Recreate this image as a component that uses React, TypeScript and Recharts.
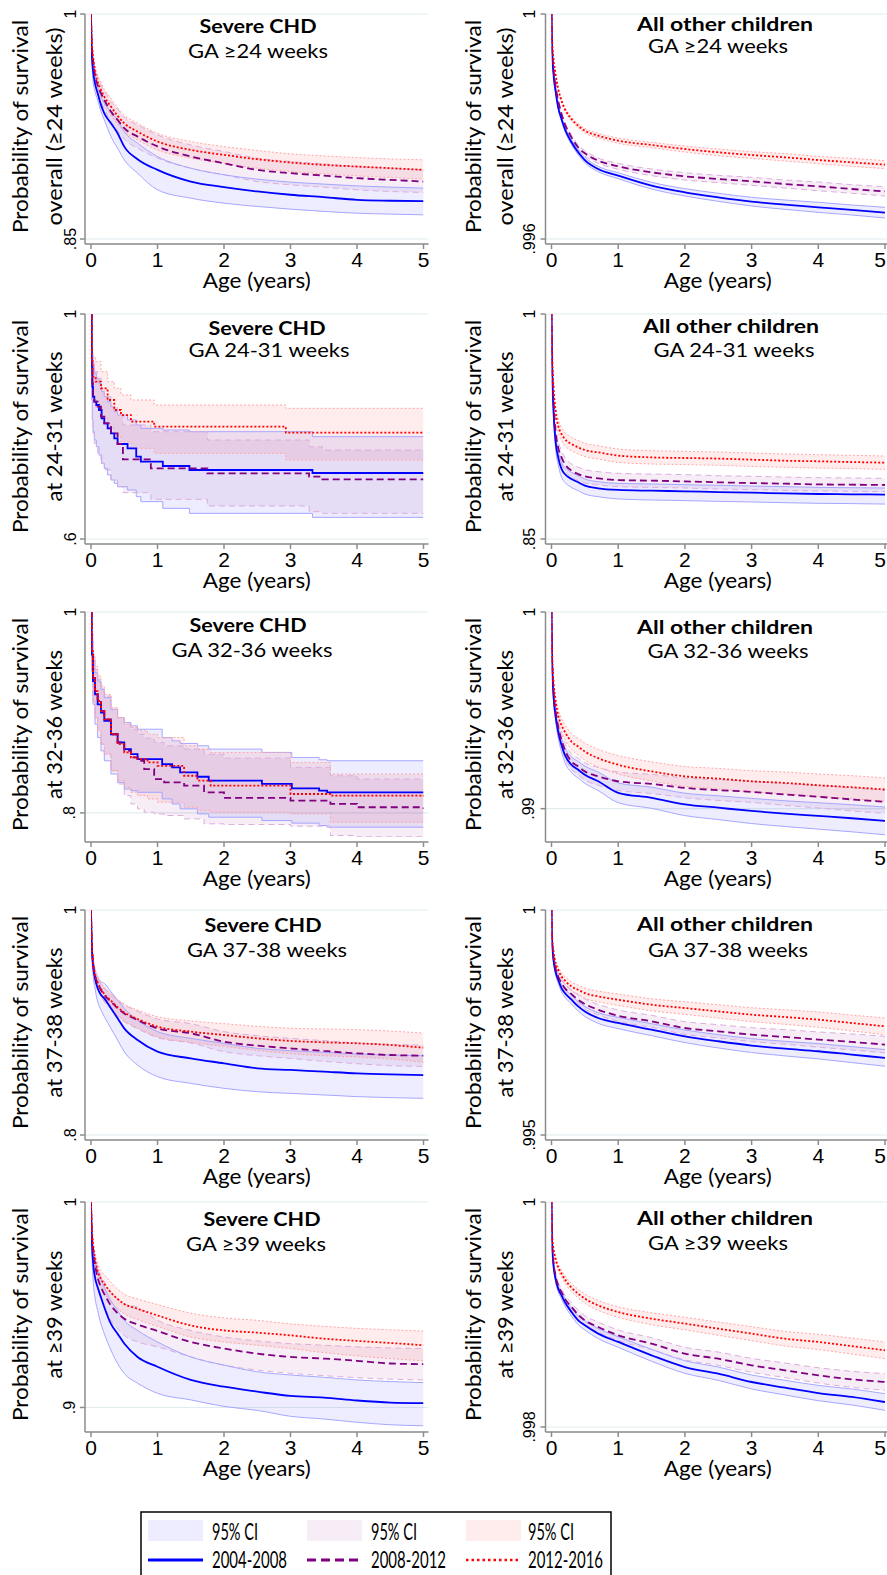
import React from "react";
import { ComposedChart, Line, Area, XAxis, YAxis, CartesianGrid } from "recharts";

// ---------- shared axes / labels ----------
const T = [0, 0.01, 0.03, 0.06, 0.1, 0.15, 0.2, 0.3, 0.4, 0.5, 0.7, 1, 1.5, 2, 2.5, 3, 3.5, 4, 4.5, 5];
const X_TICKS = [0, 1, 2, 3, 4, 5];
const PERIODS = ["2004-2008", "2008-2012", "2012-2016"];

// ---------- Panel 1L: Severe CHD, GA >=24 ----------
const p1l_blue = [1, 0.976, 0.9627, 0.9538, 0.9472, 0.9394, 0.9338, 0.9272, 0.9205, 0.9116, 0.9032, 0.8961, 0.8883, 0.8846, 0.8817, 0.8795, 0.8779, 0.8761, 0.8755, 0.8752];
const p1l_blueLo = [1, 0.9716, 0.956, 0.9483, 0.9427, 0.935, 0.9294, 0.9183, 0.9105, 0.9028, 0.8939, 0.8828, 0.8772, 0.8739, 0.8717, 0.8699, 0.8684, 0.8672, 0.8666, 0.8661];
const p1l_blueHi = [1, 0.9805, 0.9683, 0.9594, 0.9516, 0.945, 0.9405, 0.935, 0.9294, 0.9216, 0.9139, 0.905, 0.8972, 0.8928, 0.8899, 0.8879, 0.8866, 0.8854, 0.8846, 0.8839];
const p1l_purple = [1, 0.9805, 0.9694, 0.9594, 0.9527, 0.9472, 0.9427, 0.935, 0.9294, 0.9239, 0.9183, 0.9117, 0.905, 0.9005, 0.8961, 0.8939, 0.8923, 0.8906, 0.8894, 0.8883];
const p1l_purpleLo = [1, 0.9771, 0.9654, 0.9549, 0.9476, 0.9416, 0.9367, 0.9283, 0.9223, 0.9165, 0.9105, 0.9039, 0.8972, 0.8928, 0.8883, 0.8861, 0.8845, 0.8828, 0.8817, 0.881];
const p1l_purpleHi = [1, 0.9838, 0.9734, 0.9638, 0.9578, 0.9527, 0.9487, 0.9416, 0.9365, 0.9312, 0.926, 0.9194, 0.9127, 0.9083, 0.9039, 0.9017, 0.9001, 0.8983, 0.8972, 0.8961];
const p1l_red = [1, 0.9827, 0.9716, 0.9616, 0.9549, 0.9494, 0.9449, 0.9383, 0.9321, 0.9272, 0.9216, 0.915, 0.9094, 0.9061, 0.9032, 0.901, 0.8994, 0.8983, 0.8972, 0.8961];
const p1l_redLo = [1, 0.9794, 0.9676, 0.9572, 0.9505, 0.9445, 0.94, 0.9327, 0.9265, 0.9216, 0.9161, 0.9094, 0.9039, 0.9005, 0.8972, 0.895, 0.8934, 0.8921, 0.891, 0.8899];
const p1l_redHi = [1, 0.986, 0.9756, 0.966, 0.9594, 0.9543, 0.9498, 0.9438, 0.9376, 0.9327, 0.9272, 0.9205, 0.915, 0.9116, 0.909, 0.9068, 0.9054, 0.9043, 0.9034, 0.9028];

// ---------- Panel 1R: All other children, GA >=24 ----------
const p1r_blue = [1, 0.999348, 0.998933, 0.998637, 0.998341, 0.998133, 0.997956, 0.997719, 0.997541, 0.997404, 0.997244, 0.997126, 0.996948, 0.99683, 0.996741, 0.996664, 0.99661, 0.996563, 0.996516, 0.996468];
const p1r_blueLo = [1, 0.99933, 0.998909, 0.998607, 0.998311, 0.998097, 0.99792, 0.997678, 0.9975, 0.997357, 0.997197, 0.997073, 0.996889, 0.996765, 0.99667, 0.996587, 0.996527, 0.996474, 0.996427, 0.996373];
const p1r_blueHi = [1, 0.999366, 0.998957, 0.998667, 0.998371, 0.998169, 0.997992, 0.99776, 0.997582, 0.997451, 0.997291, 0.997179, 0.997007, 0.996895, 0.996812, 0.996741, 0.996693, 0.996652, 0.996605, 0.996563];
const p1r_purple = [1, 0.999407, 0.999022, 0.998726, 0.998459, 0.998222, 0.998044, 0.997807, 0.99763, 0.997523, 0.997393, 0.997292, 0.997185, 0.997114, 0.997067, 0.997025, 0.996978, 0.996936, 0.996889, 0.996847];
const p1r_purpleLo = [1, 0.999389, 0.998998, 0.998696, 0.998429, 0.998186, 0.998008, 0.997766, 0.997589, 0.997476, 0.997346, 0.997239, 0.997126, 0.997049, 0.997002, 0.996954, 0.996907, 0.996859, 0.996812, 0.996764];
const p1r_purpleHi = [1, 0.999425, 0.999046, 0.998756, 0.998489, 0.998258, 0.99808, 0.997848, 0.997671, 0.99757, 0.99744, 0.997345, 0.997244, 0.997179, 0.997132, 0.997096, 0.997049, 0.997013, 0.996966, 0.99693];
const p1r_red = [1, 0.999526, 0.9992, 0.998933, 0.998667, 0.998459, 0.998311, 0.998133, 0.998015, 0.997926, 0.997837, 0.997748, 0.997671, 0.9976, 0.997541, 0.997493, 0.997452, 0.997404, 0.997363, 0.997321];
const p1r_redLo = [1, 0.999514, 0.999182, 0.998909, 0.998643, 0.998429, 0.998281, 0.998097, 0.997979, 0.997885, 0.997796, 0.997701, 0.997624, 0.997547, 0.997482, 0.997434, 0.997387, 0.997339, 0.997292, 0.99725];
const p1r_redHi = [1, 0.999538, 0.999218, 0.998957, 0.998691, 0.998489, 0.998341, 0.998169, 0.998051, 0.997967, 0.997878, 0.997795, 0.997718, 0.997653, 0.9976, 0.997552, 0.997517, 0.997469, 0.997434, 0.997392];

// ---------- Panel 2L: Severe CHD, GA 24-31 (step) ----------
const p2l_blueT = [0, 0.01, 0.02, 0.03, 0.05, 0.08, 0.12, 0.16, 0.2, 0.25, 0.3, 0.35, 0.4, 0.55, 0.68, 0.75, 1.08, 1.48, 3.33, 5];
const p2l_blue = [1, 0.9064, 0.8708, 0.853, 0.8441, 0.8382, 0.8293, 0.8145, 0.8056, 0.7967, 0.7879, 0.779, 0.7689, 0.7612, 0.7464, 0.7375, 0.7298, 0.7227, 0.7173, 0.7173];
const p2l_blueHi = [1, 0.9538, 0.9241, 0.9064, 0.8945, 0.8856, 0.8767, 0.8619, 0.853, 0.8441, 0.8353, 0.8264, 0.8204, 0.8116, 0.8027, 0.7967, 0.7938, 0.7908, 0.7819, 0.7819];
const p2l_blueLo = [1, 0.8471, 0.8116, 0.7908, 0.776, 0.7641, 0.7493, 0.7345, 0.7256, 0.7138, 0.7049, 0.699, 0.693, 0.6871, 0.6753, 0.6664, 0.6545, 0.6456, 0.6385, 0.6385];
const p2l_purpleT = [0, 0.01, 0.02, 0.03, 0.05, 0.1, 0.15, 0.2, 0.3, 0.4, 0.48, 0.9, 1.75, 3.28, 3.48, 5];
const p2l_purple = [1, 0.9123, 0.8767, 0.856, 0.8441, 0.8353, 0.8175, 0.8056, 0.7879, 0.7689, 0.7416, 0.7256, 0.7167, 0.7108, 0.7061, 0.7061];
const p2l_purpleHi = [1, 0.9597, 0.9301, 0.9123, 0.8975, 0.8856, 0.8679, 0.853, 0.8353, 0.8204, 0.8027, 0.7908, 0.776, 0.7641, 0.7582, 0.7582];
const p2l_purpleLo = [1, 0.853, 0.8116, 0.7879, 0.7701, 0.7523, 0.7345, 0.7227, 0.7049, 0.693, 0.6824, 0.6705, 0.6587, 0.6486, 0.6456, 0.6456];
const p2l_redT = [0, 0.01, 0.025, 0.07, 0.15, 0.25, 0.35, 0.45, 0.6, 0.95, 2.93, 5];
const p2l_red = [1, 0.9182, 0.8886, 0.8797, 0.8679, 0.8471, 0.8293, 0.8204, 0.8086, 0.7997, 0.789, 0.789];
const p2l_redHi = [1, 0.9538, 0.9241, 0.9153, 0.8975, 0.8797, 0.8679, 0.856, 0.8471, 0.8382, 0.8323, 0.8305];
const p2l_redLo = [1, 0.8767, 0.8471, 0.8353, 0.8145, 0.7967, 0.7819, 0.773, 0.7612, 0.7523, 0.7404, 0.7393];

// ---------- Panel 2R: All other children, GA 24-31 ----------
const p2r_blue = [1, 0.9644, 0.9356, 0.9156, 0.9044, 0.8967, 0.8933, 0.89, 0.8878, 0.8856, 0.8838, 0.8827, 0.8822, 0.8818, 0.8813, 0.8809, 0.8804, 0.88, 0.8798, 0.8796];
const p2r_blueLo = [1, 0.9622, 0.9322, 0.9111, 0.8996, 0.8913, 0.8878, 0.8844, 0.8822, 0.88, 0.8782, 0.8767, 0.876, 0.8756, 0.8751, 0.8747, 0.8742, 0.8738, 0.8736, 0.8733];
const p2r_blueHi = [1, 0.9667, 0.9389, 0.92, 0.9089, 0.9011, 0.8978, 0.8944, 0.8922, 0.89, 0.8882, 0.8871, 0.8867, 0.8862, 0.8858, 0.8853, 0.8849, 0.8844, 0.8842, 0.884];
const p2r_purple = [1, 0.9678, 0.9422, 0.9222, 0.9111, 0.9044, 0.9, 0.8956, 0.8933, 0.8918, 0.8904, 0.8893, 0.8889, 0.8884, 0.8878, 0.8873, 0.8869, 0.8864, 0.8862, 0.886];
const p2r_purpleLo = [1, 0.9656, 0.9389, 0.9182, 0.9067, 0.9, 0.8956, 0.8911, 0.8889, 0.8873, 0.886, 0.8849, 0.8844, 0.884, 0.8833, 0.8829, 0.8824, 0.882, 0.8818, 0.8816];
const p2r_purpleHi = [1, 0.97, 0.9456, 0.9262, 0.9156, 0.9089, 0.9044, 0.9, 0.8978, 0.8962, 0.8949, 0.8938, 0.8933, 0.8929, 0.8922, 0.8918, 0.8913, 0.8909, 0.8907, 0.8904];
const p2r_red = [1, 0.9733, 0.9511, 0.9356, 0.9256, 0.92, 0.9167, 0.9133, 0.9111, 0.9093, 0.9078, 0.9056, 0.9044, 0.904, 0.9036, 0.9029, 0.9022, 0.9018, 0.9013, 0.9009];
const p2r_redLo = [1, 0.9711, 0.9478, 0.9316, 0.9211, 0.9156, 0.9122, 0.9089, 0.9067, 0.9049, 0.9033, 0.9011, 0.9, 0.8996, 0.8991, 0.8984, 0.8978, 0.8973, 0.8969, 0.8964];
const p2r_redHi = [1, 0.9756, 0.9544, 0.9396, 0.93, 0.9244, 0.9211, 0.9178, 0.9156, 0.9138, 0.9122, 0.91, 0.9089, 0.9084, 0.908, 0.9073, 0.9067, 0.9062, 0.9058, 0.9053];

// ---------- Panel 3L: Severe CHD, GA 32-36 (step) ----------
const p3l_blueT = [0, 0.01, 0.03, 0.06, 0.1, 0.15, 0.2, 0.3, 0.4, 0.5, 0.6, 0.7, 1.07, 1.22, 1.34, 1.6, 1.77, 2.57, 3.02, 3.43, 3.55, 5];
const p3l_blue = [1, 0.9577, 0.9312, 0.918, 0.9081, 0.8998, 0.8916, 0.8783, 0.8701, 0.8635, 0.8585, 0.8536, 0.8486, 0.8453, 0.8403, 0.836, 0.8321, 0.8288, 0.8245, 0.8221, 0.8205, 0.8205];
const p3l_blueHi = [1, 0.9709, 0.9511, 0.9395, 0.9312, 0.923, 0.9147, 0.9031, 0.8949, 0.8899, 0.8866, 0.8833, 0.875, 0.8717, 0.8691, 0.8668, 0.8635, 0.8602, 0.8552, 0.8529, 0.8519, 0.8519];
const p3l_blueLo = [1, 0.9412, 0.9081, 0.8883, 0.875, 0.8618, 0.8519, 0.8387, 0.8304, 0.8238, 0.8221, 0.8205, 0.8139, 0.8089, 0.804, 0.799, 0.7957, 0.7924, 0.7898, 0.7874, 0.7858, 0.7858];
const p3l_purpleT = [0, 0.01, 0.03, 0.06, 0.1, 0.15, 0.2, 0.3, 0.4, 0.5, 0.6, 0.7, 0.8, 0.95, 1.1, 1.4, 1.7, 2.0, 3.0, 3.6, 4.0, 5];
const p3l_purple = [1, 0.9593, 0.9345, 0.9213, 0.9114, 0.9015, 0.8932, 0.8783, 0.8701, 0.8618, 0.8552, 0.8519, 0.8436, 0.8337, 0.8304, 0.8271, 0.8205, 0.8149, 0.8122, 0.8089, 0.8056, 0.804];
const p3l_purpleHi = [1, 0.9775, 0.9544, 0.9428, 0.9329, 0.9246, 0.9164, 0.9031, 0.8949, 0.8883, 0.8833, 0.8783, 0.8744, 0.8701, 0.8668, 0.8635, 0.8585, 0.8545, 0.8453, 0.837, 0.8337, 0.8337];
const p3l_purpleLo = [1, 0.9412, 0.9114, 0.8949, 0.8817, 0.8684, 0.8585, 0.842, 0.8288, 0.8172, 0.8089, 0.804, 0.8007, 0.799, 0.7974, 0.794, 0.7891, 0.7884, 0.7868, 0.7775, 0.7762, 0.7762];
const p3l_redT = [0, 0.01, 0.03, 0.06, 0.1, 0.15, 0.2, 0.3, 0.4, 0.5, 0.6, 0.7, 0.85, 1.0, 1.4, 1.6, 1.8, 3.0, 3.6, 5];
const p3l_red = [1, 0.961, 0.9345, 0.9213, 0.9114, 0.9015, 0.8932, 0.8783, 0.8684, 0.8602, 0.8552, 0.8536, 0.8502, 0.8469, 0.837, 0.8321, 0.8271, 0.8188, 0.8172, 0.8162];
const p3l_redHi = [1, 0.9808, 0.9577, 0.9461, 0.9362, 0.9263, 0.918, 0.9048, 0.8949, 0.8883, 0.885, 0.8817, 0.8783, 0.875, 0.8668, 0.8635, 0.8602, 0.8502, 0.8387, 0.8387];
const p3l_redLo = [1, 0.9412, 0.9114, 0.8949, 0.8817, 0.8684, 0.8585, 0.842, 0.8321, 0.8255, 0.8205, 0.8172, 0.8139, 0.8106, 0.8056, 0.8023, 0.8007, 0.799, 0.7907, 0.7907];

// ---------- Panel 3R: All other children, GA 32-36 ----------
const p3r_blue = [1, 0.997433, 0.995755, 0.994748, 0.993909, 0.993238, 0.992735, 0.992232, 0.99198, 0.991728, 0.991393, 0.990805, 0.990554, 0.990218, 0.99005, 0.989883, 0.989748, 0.989631, 0.989513, 0.989379];
const p3r_blueLo = [1, 0.997299, 0.995554, 0.994496, 0.993607, 0.992902, 0.992366, 0.991829, 0.991561, 0.991292, 0.990923, 0.990302, 0.990017, 0.989648, 0.989446, 0.989245, 0.989094, 0.98896, 0.988825, 0.988674];
const p3r_blueHi = [1, 0.997567, 0.995956, 0.995, 0.994211, 0.993574, 0.993104, 0.992635, 0.992399, 0.992164, 0.991863, 0.991308, 0.991091, 0.990788, 0.990654, 0.990521, 0.990402, 0.990302, 0.990201, 0.990084];
const p3r_purple = [1, 0.997601, 0.996007, 0.995, 0.994161, 0.99349, 0.992987, 0.992399, 0.992148, 0.991896, 0.991644, 0.991393, 0.991258, 0.991057, 0.99094, 0.990856, 0.990721, 0.990604, 0.99047, 0.990352];
const p3r_purpleLo = [1, 0.997467, 0.995806, 0.994748, 0.993859, 0.993154, 0.992618, 0.991996, 0.991729, 0.99146, 0.991191, 0.990923, 0.990771, 0.990554, 0.99042, 0.990319, 0.990167, 0.990034, 0.989883, 0.989765];
const p3r_purpleHi = [1, 0.997735, 0.996208, 0.995252, 0.994463, 0.993826, 0.993356, 0.992802, 0.992567, 0.992332, 0.992097, 0.991863, 0.991745, 0.99156, 0.99146, 0.991393, 0.991275, 0.991174, 0.991057, 0.990939];
const p3r_red = [1, 0.997768, 0.996426, 0.995503, 0.994748, 0.994245, 0.993909, 0.993406, 0.993154, 0.992903, 0.992567, 0.992232, 0.991896, 0.991644, 0.991527, 0.991393, 0.991309, 0.991191, 0.991091, 0.990973];
const p3r_redLo = [1, 0.997634, 0.996225, 0.995251, 0.994446, 0.993909, 0.99354, 0.993003, 0.992735, 0.992467, 0.992114, 0.991762, 0.991409, 0.991141, 0.991007, 0.990856, 0.990755, 0.990621, 0.990504, 0.990386];
const p3r_redHi = [1, 0.997902, 0.996627, 0.995755, 0.99505, 0.994581, 0.994278, 0.993809, 0.993573, 0.993339, 0.99302, 0.992702, 0.992383, 0.992147, 0.992047, 0.99193, 0.991863, 0.991761, 0.991678, 0.99156];

// ---------- Panel 4L: Severe CHD, GA 37-38 ----------
const p4l_blue = [1, 0.9719, 0.9511, 0.9393, 0.9304, 0.9244, 0.9215, 0.9126, 0.9037, 0.8948, 0.8844, 0.8741, 0.8681, 0.8637, 0.8593, 0.8578, 0.8563, 0.8548, 0.8539, 0.8533];
const p4l_blueLo = [1, 0.9674, 0.9437, 0.9304, 0.9185, 0.9111, 0.9052, 0.8948, 0.8844, 0.8741, 0.8622, 0.8519, 0.8459, 0.8415, 0.8385, 0.837, 0.8356, 0.8341, 0.8332, 0.8326];
const p4l_blueHi = [1, 0.9763, 0.9585, 0.9476, 0.9407, 0.9363, 0.9348, 0.9274, 0.92, 0.9126, 0.9022, 0.8919, 0.8859, 0.8815, 0.877, 0.875, 0.8735, 0.872, 0.8711, 0.8705];
const p4l_purple = [1, 0.9733, 0.9541, 0.9422, 0.9348, 0.9289, 0.9244, 0.9185, 0.9126, 0.9081, 0.9022, 0.8948, 0.8904, 0.883, 0.8794, 0.877, 0.8747, 0.8726, 0.8711, 0.8705];
const p4l_purpleLo = [1, 0.9709, 0.9505, 0.9378, 0.9298, 0.9236, 0.9185, 0.912, 0.9055, 0.9007, 0.8945, 0.8865, 0.8818, 0.8741, 0.8705, 0.8681, 0.8655, 0.8634, 0.8616, 0.861];
const p4l_purpleHi = [1, 0.9757, 0.9577, 0.9466, 0.9398, 0.9342, 0.9303, 0.925, 0.9197, 0.9155, 0.9099, 0.9031, 0.899, 0.8919, 0.8883, 0.8859, 0.8839, 0.8818, 0.8806, 0.88];
const p4l_red = [1, 0.9739, 0.9547, 0.9428, 0.9357, 0.9298, 0.9253, 0.9194, 0.9135, 0.909, 0.9031, 0.8963, 0.8919, 0.8889, 0.8859, 0.8836, 0.8824, 0.8815, 0.88, 0.8776];
const p4l_redLo = [1, 0.9715, 0.9511, 0.9384, 0.9307, 0.9245, 0.9194, 0.9129, 0.9064, 0.9016, 0.8951, 0.8874, 0.8824, 0.8788, 0.8752, 0.8723, 0.8705, 0.8694, 0.8676, 0.8646];
const p4l_redHi = [1, 0.9763, 0.9583, 0.9472, 0.9407, 0.9351, 0.9312, 0.9259, 0.9206, 0.9164, 0.9111, 0.9052, 0.9014, 0.899, 0.8966, 0.8949, 0.8943, 0.8936, 0.8924, 0.8906];

// ---------- Panel 4R: All other children, GA 37-38 ----------
const p4r_blue = [1, 0.999261, 0.998892, 0.998634, 0.998449, 0.998264, 0.998154, 0.998006, 0.997858, 0.997747, 0.9976, 0.997489, 0.997341, 0.997194, 0.997083, 0.996987, 0.99692, 0.996861, 0.996787, 0.996713];
const p4r_blueLo = [1, 0.999224, 0.99884, 0.998568, 0.998375, 0.998183, 0.998065, 0.99791, 0.997755, 0.997636, 0.997482, 0.997363, 0.997208, 0.997054, 0.996935, 0.996832, 0.996758, 0.996691, 0.99661, 0.996528];
const p4r_blueHi = [1, 0.999298, 0.998944, 0.9987, 0.998523, 0.998345, 0.998243, 0.998102, 0.997961, 0.997858, 0.997718, 0.997615, 0.997474, 0.997334, 0.997231, 0.997142, 0.997082, 0.997031, 0.996964, 0.996898];
const p4r_purple = [1, 0.999298, 0.998966, 0.998708, 0.998523, 0.998375, 0.998264, 0.998131, 0.998006, 0.99791, 0.997784, 0.997651, 0.997526, 0.997378, 0.997304, 0.99723, 0.997179, 0.99712, 0.997068, 0.997009];
const p4r_purpleLo = [1, 0.999261, 0.998914, 0.998642, 0.998449, 0.998294, 0.998175, 0.998035, 0.997903, 0.997799, 0.997666, 0.997525, 0.997393, 0.997238, 0.997156, 0.997075, 0.997017, 0.99695, 0.996891, 0.996824];
const p4r_purpleHi = [1, 0.999335, 0.999018, 0.998774, 0.998597, 0.998456, 0.998353, 0.998227, 0.998109, 0.998021, 0.997902, 0.997777, 0.997659, 0.997518, 0.997452, 0.997385, 0.997341, 0.99729, 0.997245, 0.997194];
const p4r_red = [1, 0.999372, 0.999077, 0.998818, 0.998671, 0.998523, 0.998434, 0.998301, 0.998227, 0.998154, 0.99808, 0.998006, 0.997895, 0.997821, 0.997747, 0.997674, 0.997622, 0.997563, 0.997489, 0.997415];
const p4r_redLo = [1, 0.999335, 0.999025, 0.998752, 0.998597, 0.998442, 0.998345, 0.998205, 0.998124, 0.998039, 0.997962, 0.99788, 0.997762, 0.997681, 0.997599, 0.997519, 0.99746, 0.997393, 0.997312, 0.99723];
const p4r_redHi = [1, 0.999409, 0.999129, 0.998884, 0.998745, 0.998604, 0.998523, 0.998397, 0.99833, 0.998265, 0.998198, 0.998132, 0.998028, 0.997961, 0.997895, 0.997829, 0.997784, 0.997733, 0.997666, 0.9976];

// ---------- Panel 5L: Severe CHD, GA >=39 ----------
const p5l_blue = [1, 0.9842, 0.9713, 0.9633, 0.9585, 0.9536, 0.9488, 0.9407, 0.9359, 0.9311, 0.9246, 0.9198, 0.9134, 0.9101, 0.9077, 0.9056, 0.9048, 0.9034, 0.9024, 0.9021];
const p5l_blueLo = [1, 0.9794, 0.9633, 0.9536, 0.9472, 0.9407, 0.9359, 0.9279, 0.9214, 0.9166, 0.9118, 0.9069, 0.9037, 0.9005, 0.8986, 0.8957, 0.8944, 0.8928, 0.8916, 0.8911];
const p5l_blueHi = [1, 0.9882, 0.9778, 0.9713, 0.9665, 0.9625, 0.9585, 0.952, 0.9472, 0.9424, 0.9375, 0.9319, 0.9246, 0.9206, 0.9174, 0.9158, 0.9147, 0.9134, 0.9126, 0.9121];
const p5l_purple = [1, 0.9874, 0.9778, 0.9697, 0.9633, 0.9585, 0.9552, 0.9496, 0.9459, 0.9432, 0.9404, 0.9372, 0.9319, 0.9287, 0.9262, 0.9246, 0.9238, 0.9227, 0.9214, 0.9211];
const p5l_purpleLo = [1, 0.985, 0.9746, 0.9657, 0.9585, 0.9528, 0.9488, 0.9424, 0.9383, 0.9351, 0.9319, 0.9295, 0.9246, 0.9206, 0.9182, 0.9166, 0.9155, 0.9145, 0.9138, 0.9134];
const p5l_purpleHi = [1, 0.9899, 0.981, 0.9738, 0.9681, 0.9641, 0.9612, 0.956, 0.9528, 0.9504, 0.9488, 0.9424, 0.9375, 0.9343, 0.9324, 0.9311, 0.9303, 0.9295, 0.929, 0.9287];
const p5l_red = [1, 0.989, 0.9794, 0.9721, 0.9665, 0.9625, 0.9601, 0.956, 0.9528, 0.9504, 0.948, 0.9448, 0.9399, 0.9375, 0.9364, 0.9351, 0.9335, 0.9324, 0.9314, 0.9303];
const p5l_redLo = [1, 0.9866, 0.9762, 0.9689, 0.963, 0.9585, 0.9556, 0.9512, 0.948, 0.9456, 0.9428, 0.9395, 0.9343, 0.9319, 0.9303, 0.9287, 0.9267, 0.9251, 0.9238, 0.9227];
const p5l_redHi = [1, 0.9915, 0.9826, 0.9754, 0.97, 0.9665, 0.9646, 0.9609, 0.9576, 0.9552, 0.9528, 0.9501, 0.9459, 0.9436, 0.9424, 0.9407, 0.9395, 0.9385, 0.9378, 0.9372];

// ---------- Panel 5R: All other children, GA >=39 ----------
const p5r_blue = [1, 0.999615, 0.999437, 0.999319, 0.99923, 0.99917, 0.999111, 0.999022, 0.998948, 0.998904, 0.99883, 0.998756, 0.998637, 0.998533, 0.998474, 0.9984, 0.99835, 0.998302, 0.998267, 0.998222];
const p5r_blueLo = [1, 0.9996, 0.999416, 0.999295, 0.999203, 0.99914, 0.999078, 0.998986, 0.998909, 0.998863, 0.998786, 0.998709, 0.998584, 0.998477, 0.998415, 0.998338, 0.998285, 0.998234, 0.998196, 0.998148];
const p5r_blueHi = [1, 0.99963, 0.999458, 0.999343, 0.999257, 0.9992, 0.999144, 0.999058, 0.998987, 0.998945, 0.998874, 0.998803, 0.99869, 0.998589, 0.998533, 0.998462, 0.998415, 0.99837, 0.998338, 0.998296];
const p5r_purple = [1, 0.99963, 0.999467, 0.999348, 0.999259, 0.9992, 0.999141, 0.999067, 0.998999, 0.998948, 0.998889, 0.998815, 0.998741, 0.998652, 0.998607, 0.998548, 0.998504, 0.998459, 0.998424, 0.9984];
const p5r_purpleLo = [1, 0.999615, 0.999446, 0.999324, 0.999232, 0.99917, 0.999108, 0.999031, 0.99896, 0.998907, 0.998845, 0.998768, 0.998688, 0.998596, 0.998548, 0.998486, 0.998439, 0.998391, 0.998353, 0.998326];
const p5r_purpleHi = [1, 0.999645, 0.999488, 0.999372, 0.999286, 0.99923, 0.999174, 0.999103, 0.999038, 0.998989, 0.998933, 0.998862, 0.998794, 0.998708, 0.998666, 0.99861, 0.998569, 0.998527, 0.998495, 0.998474];
const p5r_red = [1, 0.999704, 0.999585, 0.999496, 0.999422, 0.999363, 0.999313, 0.999239, 0.999185, 0.999141, 0.999081, 0.999022, 0.998963, 0.998919, 0.998874, 0.99883, 0.998785, 0.998756, 0.99872, 0.998681];
const p5r_redLo = [1, 0.999689, 0.999564, 0.999472, 0.999395, 0.999333, 0.99928, 0.999203, 0.999146, 0.9991, 0.999037, 0.998975, 0.99891, 0.998863, 0.998815, 0.998768, 0.99872, 0.998688, 0.998649, 0.998607];
const p5r_redHi = [1, 0.999719, 0.999606, 0.99952, 0.999449, 0.999393, 0.999346, 0.999275, 0.999224, 0.999182, 0.999125, 0.999069, 0.999016, 0.998975, 0.998933, 0.998892, 0.99885, 0.998824, 0.998791, 0.998755];

// ---------- styling ----------
const LBL_FONT = "Lato, 'Open Sans', sans-serif";
const TICK_FONT = "'Liberation Sans', Arial, sans-serif";
const AXIS = "#8c8c8c";
const GRID = "#e2ecef";
const STYLES = [
  { color: "#0000ff", dash: undefined as string | undefined, ci: "#a6a6ff", ciDash: undefined as string | undefined, fill: "#0000ff", width: 1.8 },
  { color: "#800080", dash: "7 4", ci: "#dcaedc", ciDash: "6 4", fill: "#800080", width: 1.8 },
  { color: "#ff0000", dash: "2 2", ci: "#ffa6a6", ciDash: "2 2", fill: "#ff0000", width: 1.8 },
];

type S = { t: number[]; est: number[]; lo: number[]; hi: number[] };
const mk = (t: number[], est: number[], lo: number[], hi: number[]): S => ({ t, est, lo, hi });
const toRows = (s: S) => s.t.map((t, i) => ({ t, est: s.est[i], lo: s.lo[i], hi: s.hi[i], ci: [s.lo[i], s.hi[i]] }));
const fmt = (v: number) => (v === 1 ? "1" : String(v).replace(/^0\./, "."));

const ROW_TOP = [14, 314, 611.5, 909.5, 1201.5];

const PANELS = [
  { col: 0, row: 0, title: "Severe CHD", tW: 117, sub: "GA ≥24 weeks", sW: 140, tx: [258, 258], ty: [33, 58], yl2: "overall (≥24 weeks)", yl2W: 198, domain: [0.85, 1], yTicks: [0.85, 1], curve: "monotone",
    series: [mk(T, p1l_blue, p1l_blueLo, p1l_blueHi), mk(T, p1l_purple, p1l_purpleLo, p1l_purpleHi), mk(T, p1l_red, p1l_redLo, p1l_redHi)] },
  { col: 1, row: 0, title: "All other children", tW: 176, sub: "GA ≥24 weeks", sW: 140, tx: [725, 718], ty: [31, 53], yl2: "overall (≥24 weeks)", yl2W: 198, domain: [0.996, 1], yTicks: [0.996, 1], curve: "monotone",
    series: [mk(T, p1r_blue, p1r_blueLo, p1r_blueHi), mk(T, p1r_purple, p1r_purpleLo, p1r_purpleHi), mk(T, p1r_red, p1r_redLo, p1r_redHi)] },
  { col: 0, row: 1, title: "Severe CHD", tW: 117, sub: "GA 24-31 weeks", sW: 161, tx: [267, 269], ty: [335, 357], yl2: "at 24-31 weeks", yl2W: 150, domain: [0.6, 1], yTicks: [0.6, 1], curve: "stepAfter",
    series: [mk(p2l_blueT, p2l_blue, p2l_blueLo, p2l_blueHi), mk(p2l_purpleT, p2l_purple, p2l_purpleLo, p2l_purpleHi), mk(p2l_redT, p2l_red, p2l_redLo, p2l_redHi)] },
  { col: 1, row: 1, title: "All other children", tW: 176, sub: "GA 24-31 weeks", sW: 161, tx: [731, 734], ty: [333, 357], yl2: "at 24-31 weeks", yl2W: 150, domain: [0.85, 1], yTicks: [0.85, 1], curve: "monotone",
    series: [mk(T, p2r_blue, p2r_blueLo, p2r_blueHi), mk(T, p2r_purple, p2r_purpleLo, p2r_purpleHi), mk(T, p2r_red, p2r_redLo, p2r_redHi)] },
  { col: 0, row: 2, title: "Severe CHD", tW: 117, sub: "GA 32-36 weeks", sW: 161, tx: [248, 252], ty: [632, 657], yl2: "at 32-36 weeks", yl2W: 149, domain: [0.776, 1], yTicks: [0.8, 1], curve: "stepAfter",
    series: [mk(p3l_blueT, p3l_blue, p3l_blueLo, p3l_blueHi), mk(p3l_purpleT, p3l_purple, p3l_purpleLo, p3l_purpleHi), mk(p3l_redT, p3l_red, p3l_redLo, p3l_redHi)] },
  { col: 1, row: 2, title: "All other children", tW: 176, sub: "GA 32-36 weeks", sW: 161, tx: [725, 728], ty: [634, 658], yl2: "at 32-36 weeks", yl2W: 149, domain: [0.98856, 1], yTicks: [0.99, 1], curve: "monotone",
    series: [mk(T, p3r_blue, p3r_blueLo, p3r_blueHi), mk(T, p3r_purple, p3r_purpleLo, p3r_purpleHi), mk(T, p3r_red, p3r_redLo, p3r_redHi)] },
  { col: 0, row: 3, title: "Severe CHD", tW: 117, sub: "GA 37-38 weeks", sW: 160, tx: [263, 267], ty: [932, 957], yl2: "at 37-38 weeks", yl2W: 150, domain: [0.8, 1], yTicks: [0.8, 1], curve: "monotone",
    series: [mk(T, p4l_blue, p4l_blueLo, p4l_blueHi), mk(T, p4l_purple, p4l_purpleLo, p4l_purpleHi), mk(T, p4l_red, p4l_redLo, p4l_redHi)] },
  { col: 1, row: 3, title: "All other children", tW: 176, sub: "GA 37-38 weeks", sW: 160, tx: [725, 728], ty: [931, 957], yl2: "at 37-38 weeks", yl2W: 150, domain: [0.995, 1], yTicks: [0.995, 1], curve: "monotone",
    series: [mk(T, p4r_blue, p4r_blueLo, p4r_blueHi), mk(T, p4r_purple, p4r_purpleLo, p4r_purpleHi), mk(T, p4r_red, p4r_redLo, p4r_redHi)] },
  { col: 0, row: 4, title: "Severe CHD", tW: 117, sub: "GA ≥39 weeks", sW: 140, tx: [262, 256], ty: [1226, 1251], yl2: "at ≥39 weeks", yl2W: 128, domain: [0.8905, 1], yTicks: [0.9, 1], curve: "monotone",
    series: [mk(T, p5l_blue, p5l_blueLo, p5l_blueHi), mk(T, p5l_purple, p5l_purpleLo, p5l_purpleHi), mk(T, p5l_red, p5l_redLo, p5l_redHi)] },
  { col: 1, row: 4, title: "All other children", tW: 176, sub: "GA ≥39 weeks", sW: 140, tx: [725, 718], ty: [1225, 1250], yl2: "at ≥39 weeks", yl2W: 128, domain: [0.998, 1], yTicks: [0.998, 1], curve: "monotone",
    series: [mk(T, p5r_blue, p5r_blueLo, p5r_blueHi), mk(T, p5r_purple, p5r_purpleLo, p5r_purpleHi), mk(T, p5r_red, p5r_redLo, p5r_redHi)] },
];

const CHART_H = 296;
const M_TOP = 10;
const XAX_H = 56;
const PAGE_W = 887;

function XTick(props: any) {
  const { x, y, payload, absLeft } = props;
  // keep the last label inside the page edge
  const absX = absLeft + x;
  const overflow = absX + 6 > PAGE_W;
  return (
    <text
      x={overflow ? PAGE_W - absLeft - 1 : x}
      y={y}
      dy="0.71em"
      textAnchor={overflow ? "end" : "middle"}
      fontFamily={TICK_FONT}
      fontSize={21}
      fill="#000"
    >
      {payload.value}
    </text>
  );
}

function YTick(props: any) {
  const { x, y, payload } = props;
  return (
    <text x={x} y={y} transform={`rotate(-90 ${x} ${y})`} textAnchor="middle" fontFamily={TICK_FONT} fontSize={16} fill="#000">
      {fmt(payload.value)}
    </text>
  );
}

function YLab(props: any) {
  const { x1, x2, cy, l2, l2w } = props;
  return (
    <g>
      <text x={x1} y={cy} transform={`rotate(-90 ${x1} ${cy})`} textAnchor="middle" fontFamily={LBL_FONT} fontSize={22} fill="#000" textLength={213} lengthAdjust="spacingAndGlyphs">
        Probability of survival
      </text>
      <text x={x2} y={cy} transform={`rotate(-90 ${x2} ${cy})`} textAnchor="middle" fontFamily={LBL_FONT} fontSize={22} fill="#000" textLength={l2w} lengthAdjust="spacingAndGlyphs">
        {l2}
      </text>
    </g>
  );
}

function XLab(props: any) {
  const { cx, by } = props;
  return (
    <text x={cx} y={by} textAnchor="middle" fontFamily={LBL_FONT} fontSize={20.5} fill="#000" textLength={108} lengthAdjust="spacingAndGlyphs">
      Age (years)
    </text>
  );
}

function Panel({ p }: { p: (typeof PANELS)[number] }) {
  const left = p.col === 0;
  const divLeft = left ? 0 : 443;
  const yw = left ? 85 : 102.5;
  const width = left ? 428.5 : 447;
  const top = ROW_TOP[p.row] - M_TOP;
  const rows = p.series.map(toRows);
  const cy = M_TOP + 112.5;
  const plotCx = (yw + width) / 2;
  const axisY = M_TOP + (CHART_H - M_TOP - XAX_H);
  return (
    <div style={{ position: "absolute", left: divLeft, top }}>
      <ComposedChart width={width} height={CHART_H} margin={{ top: M_TOP, right: 0, bottom: 0, left: 0 }}>
        <CartesianGrid vertical={false} stroke={GRID} strokeWidth={1.2} />
        <XAxis
          type="number"
          dataKey="t"
          domain={[0, 5]}
          ticks={X_TICKS}
          allowDataOverflow
          padding={{ left: 6, right: 5 }}
          height={XAX_H}
          tickSize={5}
          tickMargin={3}
          axisLine={{ stroke: AXIS, strokeWidth: 1.5 }}
          tickLine={{ stroke: AXIS, strokeWidth: 1.5 }}
          tick={<XTick absLeft={divLeft} />}
          interval={0}
          label={<XLab cx={plotCx} by={axisY + 44} />}
        />
        <YAxis
          type="number"
          domain={p.domain as [number, number]}
          ticks={p.yTicks}
          allowDataOverflow
          width={yw}
          padding={{ top: 0, bottom: 5 }}
          tickSize={5}
          tickMargin={left ? 4.5 : 6}
          axisLine={{ stroke: AXIS, strokeWidth: 1.5 }}
          tickLine={{ stroke: AXIS, strokeWidth: 1.5 }}
          tick={<YTick />}
          interval={0}
          label={<YLab x1={left ? 28 : 38} x2={left ? 62 : 70} cy={cy} l2={p.yl2} l2w={p.yl2W} />}
        />
        {rows.map((r, i) => (
          <Area
            key={`a${i}`}
            data={r}
            dataKey="ci"
            type={p.curve as any}
            fill={STYLES[i].fill}
            fillOpacity={0.07}
            stroke="none"
            isAnimationActive={false}
            dot={false}
            activeDot={false}
          />
        ))}
        {rows.map((r, i) => (
          <Line key={`lo${i}`} data={r} dataKey="lo" type={p.curve as any} stroke={STYLES[i].ci} strokeWidth={1} strokeDasharray={STYLES[i].ciDash} dot={false} activeDot={false} isAnimationActive={false} />
        ))}
        {rows.map((r, i) => (
          <Line key={`hi${i}`} data={r} dataKey="hi" type={p.curve as any} stroke={STYLES[i].ci} strokeWidth={1} strokeDasharray={STYLES[i].ciDash} dot={false} activeDot={false} isAnimationActive={false} />
        ))}
        {rows.map((r, i) => (
          <Line key={`e${i}`} data={r} dataKey="est" type={p.curve as any} stroke={STYLES[i].color} strokeWidth={STYLES[i].width} strokeDasharray={STYLES[i].dash} dot={false} activeDot={false} isAnimationActive={false} />
        ))}
      </ComposedChart>
    </div>
  );
}

function Overlay() {
  const legCols = [148, 307, 466];
  const legText = [212, 371, 528];
  return (
    <svg width={887} height={1575} style={{ position: "absolute", left: 0, top: 0, pointerEvents: "none" }}>
      {PANELS.map((p, i) => (
        <g key={i}>
          <text x={p.tx[0]} y={p.ty[0]} textAnchor="middle" fontFamily={LBL_FONT} fontWeight={700} fontSize={19} fill="#000" textLength={p.tW} lengthAdjust="spacingAndGlyphs">
            {p.title}
          </text>
          <text x={p.tx[1]} y={p.ty[1]} textAnchor="middle" fontFamily={LBL_FONT} fontSize={19} fill="#000" textLength={p.sW} lengthAdjust="spacingAndGlyphs">
            {p.sub}
          </text>
        </g>
      ))}
      <rect x={141} y={1512} width={470} height={100} fill="none" stroke="#000" strokeWidth={1.5} />
      {legCols.map((x, i) => (
        <g key={`lg${i}`}>
          <rect x={x} y={1520} width={55} height={21} fill={STYLES[i].fill} fillOpacity={0.07} />
          <line x1={x} x2={x + 55} y1={1560} y2={1560} stroke={STYLES[i].color} strokeWidth={i === 2 ? 2.5 : 3} strokeDasharray={i === 0 ? undefined : i === 1 ? "9 5" : "2.5 3"} />
          <text x={legText[i]} y={1540} fontFamily={LBL_FONT} fontSize={24} fill="#000" textLength={46} lengthAdjust="spacingAndGlyphs">
            95% CI
          </text>
          <text x={legText[i]} y={1568} fontFamily={LBL_FONT} fontSize={24} fill="#000" textLength={75} lengthAdjust="spacingAndGlyphs">
            {PERIODS[i]}
          </text>
        </g>
      ))}
    </svg>
  );
}

export default function App() {
  return (
    <div style={{ position: "absolute", left: 0, top: 0, width: 887, height: 1575, overflow: "hidden", background: "#fff" }}>
      {PANELS.map((p, i) => (
        <Panel key={i} p={p} />
      ))}
      <Overlay />
    </div>
  );
}
